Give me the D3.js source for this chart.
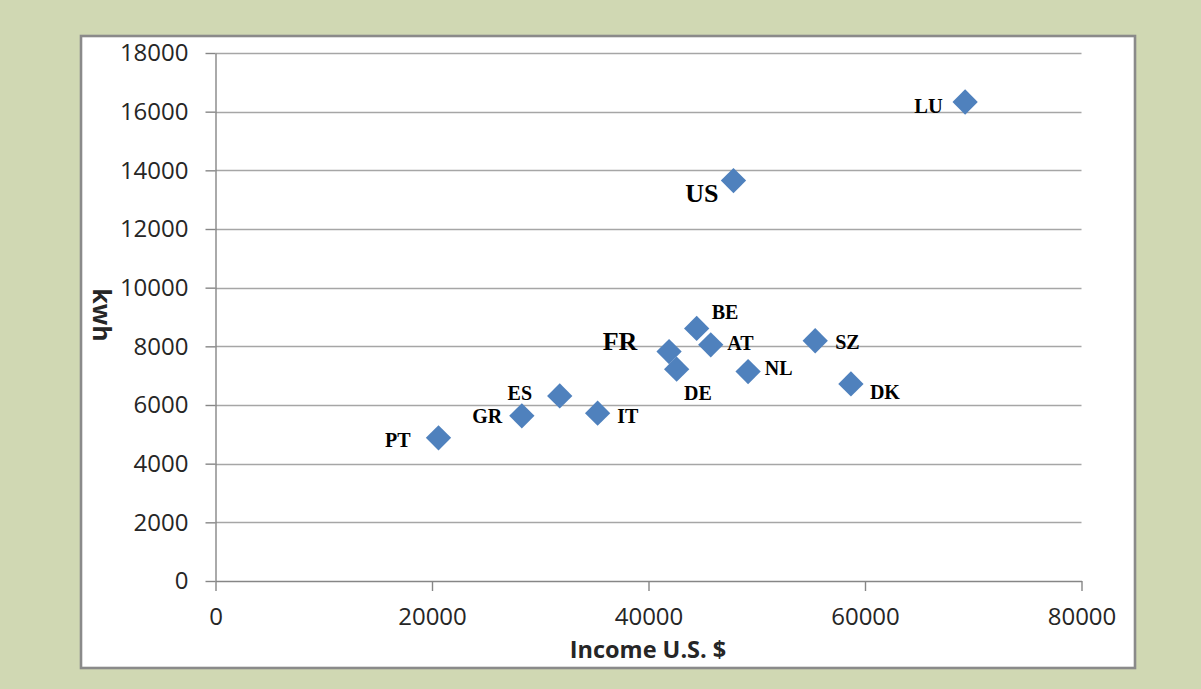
<!DOCTYPE html>
<html>
<head>
<meta charset="utf-8">
<script src="https://cdn.jsdelivr.net/npm/d3@7/dist/d3.min.js"></script>
<style>
  html, body { margin: 0; padding: 0; background: #d0d8b3; }
  svg { display: block; }
</style>
</head>
<body>
<svg id="chart" width="1201" height="689"></svg>
<script>
// Electricity use per capita (kWh) against income per capita (US $)
const countries = ["PT", "GR", "ES", "IT", "FR", "DE", "BE", "AT", "NL", "SZ", "DK", "US", "LU"];
const income    = [20600, 28300, 31800, 35300, 41900, 42600, 44450, 45750, 49200, 55400, 58700, 47850, 69250];
const kwh       = [4880, 5630, 6310, 5720, 7820, 7220, 8610, 8050, 7140, 8190, 6720, 13650, 16330];

const xTicks = [0, 20000, 40000, 60000, 80000];
const yTicks = [0, 2000, 4000, 6000, 8000, 10000, 12000, 14000, 16000, 18000];

// label placement around each marker: [dx, dy, anchor, font size]
const labelPlacement = {
  PT: [-28, 9.6, "end", 20],
  GR: [-19.6, 7, "end", 20],
  ES: [-27.7, 4, "end", 20],
  IT: [19.6, 9.4, "start", 20],
  FR: [-31.7, -1.7, "end", 26],
  DE: [7.3, 30.7, "start", 20],
  BE: [15, -9.3, "start", 20],
  AT: [16.6, 5, "start", 20],
  NL: [16.7, 3.3, "start", 20],
  SZ: [20, 8.6, "start", 20],
  DK: [19, 15.3, "start", 20],
  US: [-15, 21, "end", 26],
  LU: [-22.4, 10.7, "end", 20.5]
};

const points = countries.map((c, i) => ({ name: c, x: income[i], y: kwh[i] }));

const svg = d3.select("#chart");

// chart panel
svg.append("rect")
  .attr("x", 81).attr("y", 36)
  .attr("width", 1054).attr("height", 632)
  .attr("fill", "#ffffff")
  .attr("stroke", "#8a8a8a")
  .attr("stroke-width", 2.6);

const x = d3.scaleLinear().domain([0, 80000]).range([215.5, 1081.5]);
const y = d3.scaleLinear().domain([0, 18000]).range([581, 53]);

const tickFont = "'Open Sans', 'DejaVu Sans', sans-serif";

// horizontal gridlines
svg.append("g")
  .selectAll("line")
  .data(yTicks.filter(d => d > 0))
  .join("line")
  .attr("x1", x(0)).attr("x2", x(80000))
  .attr("y1", d => Math.round(y(d)) + 0.5)
  .attr("y2", d => Math.round(y(d)) + 0.5)
  .attr("stroke", "#a6a6a6")
  .attr("stroke-width", 1.4);

// y axis
const yAxis = svg.append("g")
  .attr("transform", `translate(${x(0)},0)`)
  .call(d3.axisLeft(y).tickValues(yTicks).tickSize(10).tickSizeOuter(0).tickPadding(17).tickFormat(d3.format("d")));

// x axis
const xAxis = svg.append("g")
  .attr("transform", `translate(0,${y(0)})`)
  .call(d3.axisBottom(x).tickValues(xTicks).tickSize(10).tickSizeOuter(0).tickPadding(17).tickFormat(d3.format("d")));

[yAxis, xAxis].forEach(g => {
  g.select(".domain").attr("stroke", "#868686").attr("stroke-width", 1.4);
  g.selectAll(".tick line").attr("stroke", "#868686").attr("stroke-width", 1.4);
  g.selectAll(".tick text")
    .attr("font-family", tickFont)
    .attr("font-size", 24)
    .attr("fill", "#262626");
});

// axis titles
svg.append("text")
  .attr("x", 648).attr("y", 658)
  .attr("text-anchor", "middle")
  .attr("font-family", tickFont)
  .attr("font-weight", "bold")
  .attr("font-size", 23.5)
  .attr("fill", "#262626")
  .text("Income U.S. $");

svg.append("text")
  .attr("transform", "translate(93,315) rotate(90)")
  .attr("text-anchor", "middle")
  .attr("font-family", tickFont)
  .attr("font-weight", "bold")
  .attr("font-size", 25)
  .attr("fill", "#262626")
  .text("kwh");

// diamond markers
const diamond = d3.symbol().type(d3.symbolSquare).size(320);
svg.append("g")
  .selectAll("path")
  .data(points)
  .join("path")
  .attr("d", diamond)
  .attr("transform", d => `translate(${x(d.x)},${y(d.y)}) rotate(45)`)
  .attr("fill", "#4f81bd");

// country labels
svg.append("g")
  .selectAll("text")
  .data(points)
  .join("text")
  .attr("x", d => x(d.x) + labelPlacement[d.name][0])
  .attr("y", d => y(d.y) + labelPlacement[d.name][1])
  .attr("text-anchor", d => labelPlacement[d.name][2])
  .attr("font-size", d => labelPlacement[d.name][3])
  .attr("font-family", "'Liberation Serif', 'Times New Roman', serif")
  .attr("font-weight", "bold")
  .attr("fill", "#000")
  .text(d => d.name);
</script>
</body>
</html>
